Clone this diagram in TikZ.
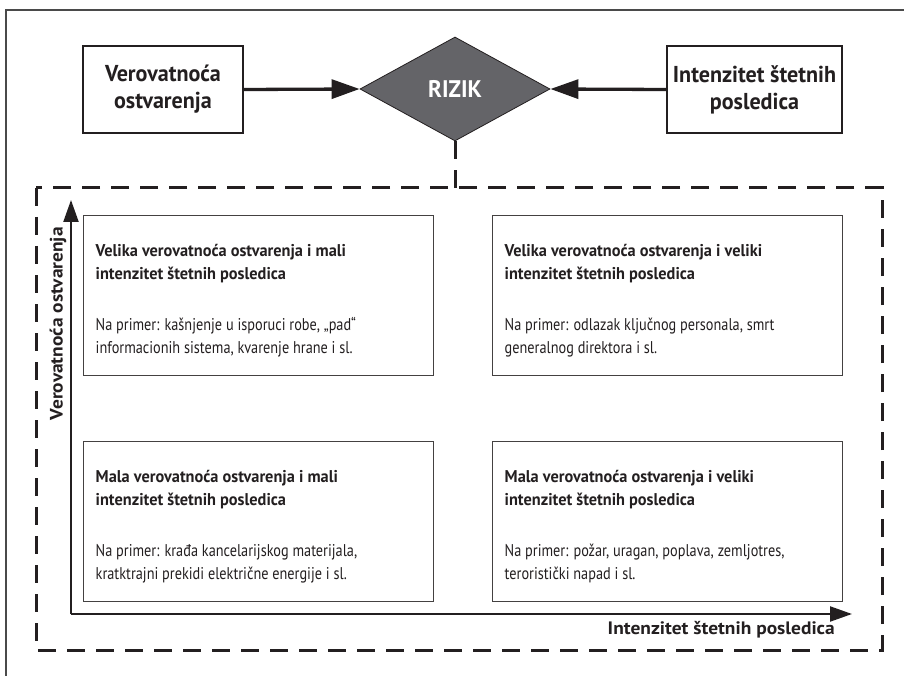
\documentclass[tikz,border=0pt]{standalone}
\usepackage{fontspec}
\setmainfont{PT Sans}[FakeStretch=0.84]
\newfontfamily\hdfont{PT Sans}[FakeStretch=0.96]
\newfontfamily\axfont{PT Sans}[FakeStretch=1.08]
\usetikzlibrary{shapes.geometric,arrows.meta}
\definecolor{ink}{HTML}{231F20}
\definecolor{dgray}{HTML}{646468}
\definecolor{framegray}{HTML}{4A4A4A}
\newcommand\quadtext[2]{\parbox[c][160pt][t]{326pt}{\raggedright\parindent=0pt\vspace*{29pt}\fontsize{17}{23}\selectfont{\hdfont\bfseries #1}\par\vspace{28pt}#2}}
\begin{document}
\begin{tikzpicture}[x=1pt,y=-1pt,
  topbox/.style={draw=ink, line width=1.3pt, minimum width=160pt, minimum height=87pt, inner sep=0pt, align=center, text=ink, font=\hdfont\fontsize{23}{27}\selectfont\bfseries},
  risk/.style={diamond, draw=ink, line width=0.8pt, fill=dgray, minimum width=190pt, minimum height=104pt, inner sep=0pt, text=white, font=\hdfont\fontsize{24}{28}\selectfont\bfseries},
  bigarrow/.style={draw=ink, line width=3.3pt, -{Triangle[length=28pt,width=19pt]}},
  quad/.style={draw=ink!85, line width=1.4pt, inner xsep=12pt, inner ysep=0pt, anchor=north west, text=ink},
  axis/.style={draw=ink, line width=2.2pt, -{Triangle[length=22pt,width=15pt]}},
  axlab/.style={text=ink, inner sep=0pt, font=\axfont\fontsize{18}{21}\selectfont\bfseries},
  dbox/.style={draw=ink, line width=3pt, dash pattern=on 18pt off 11pt},
  framel/.style={draw=framegray, line width=1.2pt}]
\useasboundingbox (0,0) rectangle (904,676);
\fill[white] (0,0) rectangle (904,676);
% outer frame (left and top only)
\draw[framel] (6,676) -- (6,10) -- (904,10);
% top row
\node[topbox] (vo) at (163,89.5) {Verovatnoća\\ostvarenja};
\node[risk] (rz) at (455,89) {RIZIK};
\node[topbox, minimum width=175pt] (iz) at (754.5,89.5) {Intenzitet štetnih\\posledica};
\draw[bigarrow] (vo.east) -- (rz.west);
\draw[bigarrow] (iz.west) -- (rz.east);
% dashed frame
\coordinate (dtop) at (455,188);
\draw[dbox] (rz.south) -- (dtop);
\draw[dbox] (36,188) rectangle (882,650);
% axes
\coordinate (o) at (71,614);
\coordinate (yt) at (71,200);
\coordinate (xt) at (852,614);
\draw[axis] (o) -- (yt);
\draw[axis] (o) -- (xt);
\node[axlab, rotate=90, anchor=east] (yl) at (58,227) {Verovatnoća ostvarenja};
\node[axlab, anchor=east] (xl) at (835,630) {Intenzitet štetnih posledica};
% quadrants
\node[quad] (q1) at (83,215) {\quadtext{Velika verovatnoća ostvarenja i mali\\intenzitet štetnih posledica}{Na primer: kašnjenje u isporuci robe, „pad“\\informacionih sistema, kvarenje hrane i sl.}};
\node[quad] (q2) at (492,215) {\quadtext{Velika verovatnoća ostvarenja i veliki\\intenzitet štetnih posledica}{Na primer: odlazak ključnog personala, smrt\\generalnog direktora i sl.}};
\node[quad] (q3) at (83,441) {\quadtext{Mala verovatnoća ostvarenja i mali\\intenzitet štetnih posledica}{Na primer: krađa kancelarijskog materijala,\\kratktrajni prekidi električne energije i sl.}};
\node[quad] (q4) at (492,441) {\quadtext{Mala verovatnoća ostvarenja i veliki\\intenzitet štetnih posledica}{Na primer: požar, uragan, poplava, zemljotres,\\teroristički napad i sl.}};
\end{tikzpicture}
\end{document}
